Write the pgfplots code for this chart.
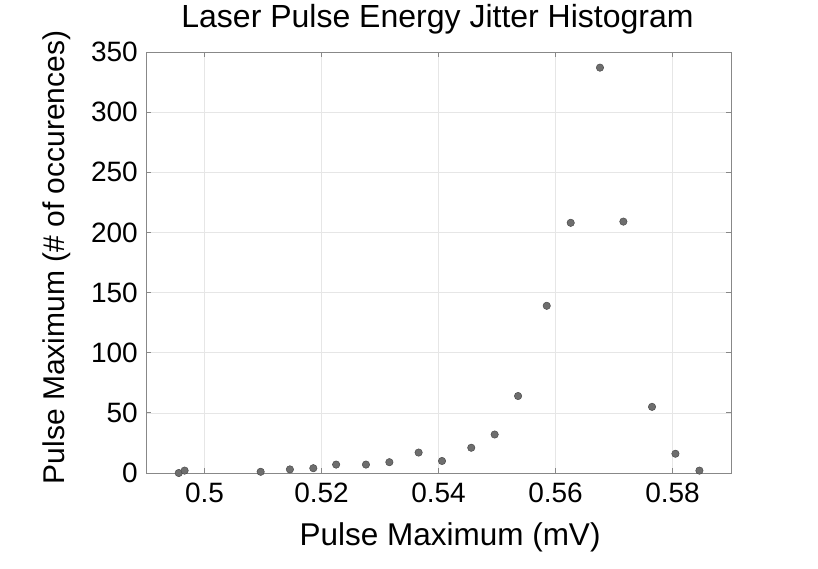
\documentclass[border=0pt]{standalone}
\usepackage{fontspec}
\setmainfont{Liberation Sans}
\usepackage{pgfplots}
\pgfplotsset{compat=1.18}
\definecolor{axgray}{HTML}{888888}
\definecolor{gridc}{HTML}{E6E6E6}
\definecolor{markfill}{HTML}{6E6E6E}
\definecolor{markedge}{HTML}{4A4A4A}
\begin{document}
\begin{tikzpicture}
\path[use as bounding box] (-146pt,-95pt) rectangle (672pt,473pt);
\begin{axis}[
 scale only axis, width=585pt, height=421pt, at={(0pt,0pt)}, anchor=south west,
 xmin=0.49, xmax=0.59, ymin=0, ymax=350,
 xtick={0.5,0.52,0.54,0.56,0.58}, xticklabels={0.5,0.52,0.54,0.56,0.58},
 ytick={0,50,100,150,200,250,300,350}, yticklabels={0,50,100,150,200,250,300,350},
 grid=major, major grid style={color=gridc, line width=0.6pt},
 axis line style={color=axgray, line width=0.9pt},
 major tick style={color=axgray, line width=0.9pt},
 major tick length=5pt,
 tick label style={font=\fontsize{28}{32}\selectfont, inner sep=0pt},
 xticklabel style={anchor=north, yshift=-10pt},
 yticklabel style={anchor=east, xshift=-8pt},
 clip=false,
]
\addplot[only marks, mark=*, mark size=3.7pt, mark options={fill=markfill, draw=markedge, line width=0.5pt}] table {
x y
0.4956 0
0.4966 2
0.5096 1
0.5146 3
0.5186 4
0.5225 7
0.5276 7
0.5316 9
0.5366 17
0.5406 10
0.5456 21
0.5496 32
0.5536 64
0.5585 139
0.5626 208
0.5676 337
0.5716 209
0.5765 55
0.5805 16
0.5846 2
};
\node[anchor=base, font=\fontsize{32}{38}\selectfont] at ([yshift=25pt]axis description cs:0.4983,1) {Laser Pulse Energy Jitter Histogram};
\node[anchor=base, font=\fontsize{31.5}{38}\selectfont] at ([yshift=-72.7pt]axis description cs:0.5197,0) {Pulse Maximum (mV)};
\node[anchor=base, rotate=90, font=\fontsize{30}{36}\selectfont] at ([xshift=-81pt]axis description cs:0,0.512) {Pulse Maximum (\# of occurences)};
\end{axis}
\end{tikzpicture}
\end{document}
